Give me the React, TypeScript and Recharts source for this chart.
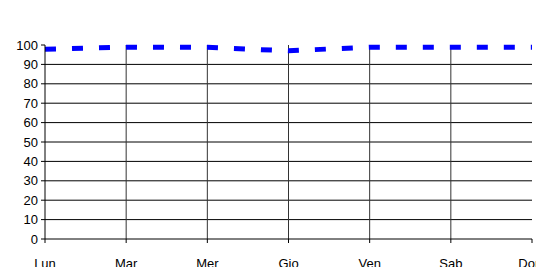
import React from "react";
import { LineChart, Line, XAxis, YAxis, ReferenceLine } from "recharts";

const categories = ["Lun", "Mar", "Mer", "Gio", "Ven", "Sab", "Dom"];
const values = [97.8, 98.9, 98.8, 97.0, 98.9, 98.9, 98.9];
const yTicks = [0, 10, 20, 30, 40, 50, 60, 70, 80, 90, 100];
const hGrid = [10, 20, 30, 40, 50, 60, 70, 80, 90];
const vGrid = ["Mar", "Mer", "Gio", "Ven", "Sab"];

const data = categories.map((c, i) => ({ day: c, v: values[i] }));

const font = { fontFamily: "'Liberation Sans', Arial, sans-serif", fontSize: 13, fill: "#000" };

export default function App() {
  return (
    <div style={{ position: "absolute", left: 0, top: 0, width: 536, height: 267, background: "#fff", overflow: "hidden" }}>
      <LineChart width={536} height={267} data={data} margin={{ top: 45, right: 4, left: 0, bottom: 0 }}>
        {hGrid.map((y) => (
          <ReferenceLine key={"h" + y} y={y} stroke="#000" strokeWidth={1} ifOverflow="visible" />
        ))}
        {vGrid.map((x) => (
          <ReferenceLine key={"v" + x} x={x} stroke="#333" strokeWidth={1} ifOverflow="visible" />
        ))}
        <XAxis
          dataKey="day"
          stroke="#000"
          tick={font}
          tickLine={{ stroke: "#000" }}
          tickSize={4}
          tickMargin={16}
          height={28}
          interval={0}
        />
        <YAxis
          domain={[0, 100]}
          ticks={yTicks}
          stroke="#000"
          tick={font}
          tickLine={{ stroke: "#000" }}
          tickSize={4}
          tickMargin={3}
          width={45}
          interval={0}
        />
        <Line
          dataKey="v"
          type="linear"
          stroke="#0000ff"
          strokeWidth={5}
          strokeDasharray="11 16"
          dot={false}
          isAnimationActive={false}
        />
      </LineChart>
    </div>
  );
}
